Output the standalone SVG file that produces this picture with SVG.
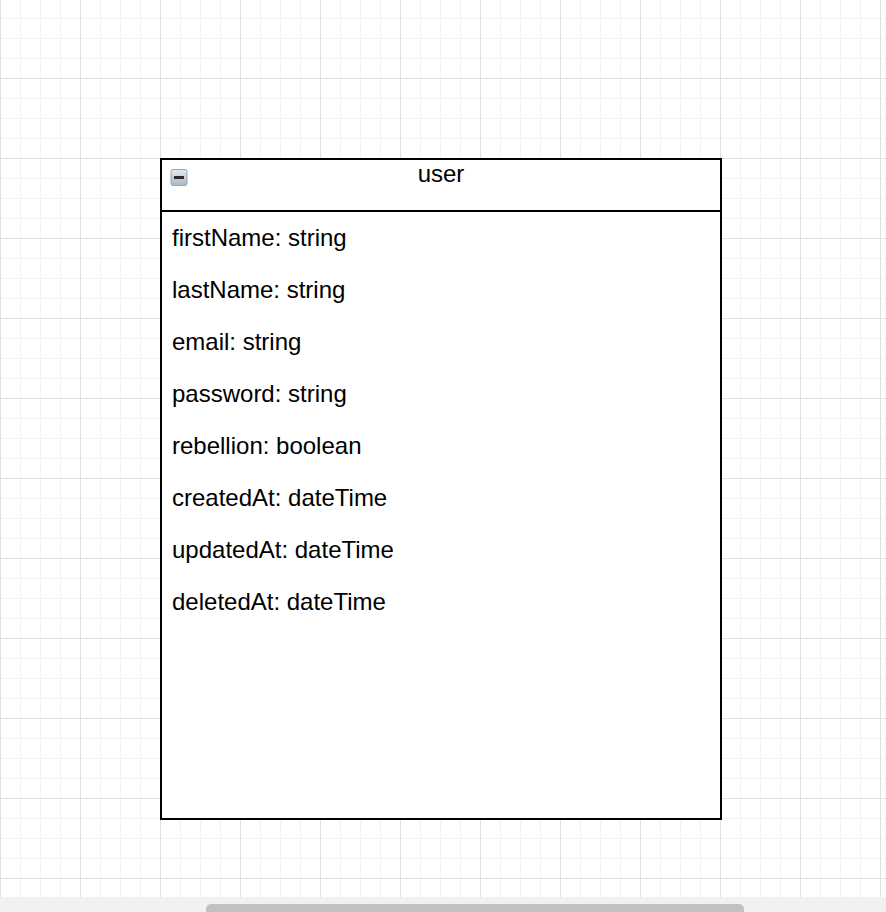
<svg xmlns="http://www.w3.org/2000/svg" width="886" height="912" viewBox="0 0 886 912">
  <defs>
    <pattern id="minor" x="0" y="-2" width="20" height="20" patternUnits="userSpaceOnUse">
      <path d="M0.5 0V20M0 0.5H20" fill="none" stroke="#f3f3f3" stroke-width="1"/>
    </pattern>
    <pattern id="major" x="0" y="-2" width="80" height="80" patternUnits="userSpaceOnUse">
      <path d="M0.5 0V80M0 0.5H80" fill="none" stroke="#e0e0e0" stroke-width="1"/>
    </pattern>
    <linearGradient id="iconGrad" x1="0" y1="0" x2="0" y2="1">
      <stop offset="0" stop-color="#e6ebf1"/>
      <stop offset="1" stop-color="#aab6c4"/>
    </linearGradient>
    <style>
      .attr { font-family: "Liberation Sans", Arial, Helvetica, sans-serif; font-size: 24px; fill: #000; }
      .title { font-family: "Liberation Sans", Arial, Helvetica, sans-serif; font-size: 24px; fill: #000; text-anchor: middle; }
    </style>
  </defs>
  <rect x="0" y="0" width="886" height="912" fill="#ffffff"/>
  <rect x="0" y="0" width="886" height="897" fill="url(#minor)"/>
  <rect x="0" y="0" width="886" height="897" fill="url(#major)"/>
  <g id="scrollbar">
    <rect x="0" y="897" width="886" height="15" fill="#f1f1f1"/>
    <rect x="206" y="904" width="538" height="14" rx="5" fill="#c1c1c1"/>
  </g>
  <g id="connectors"></g>
  <g id="user">
    <rect x="161" y="159" width="560" height="660" fill="#ffffff" stroke="#000000" stroke-width="2"/>
    <line x1="161" y1="211" x2="721" y2="211" stroke="#000000" stroke-width="2"/>
    <g id="collapse-icon">
      <rect x="171" y="169.5" width="16" height="16" rx="2" fill="url(#iconGrad)" stroke="#98a4b2" stroke-width="1"/>
      <rect x="174" y="176" width="10" height="3" fill="#2a2a2a"/>
    </g>
    <text class="title" x="441" y="182">user</text>
    <text class="attr" x="172" y="246">firstName: string</text>
    <text class="attr" x="172" y="298">lastName: string</text>
    <text class="attr" x="172" y="350">email: string</text>
    <text class="attr" x="172" y="402">password: string</text>
    <text class="attr" x="172" y="454">rebellion: boolean</text>
    <text class="attr" x="172" y="506">createdAt: dateTime</text>
    <text class="attr" x="172" y="558">updatedAt: dateTime</text>
    <text class="attr" x="172" y="610">deletedAt: dateTime</text>
  </g>
</svg>
